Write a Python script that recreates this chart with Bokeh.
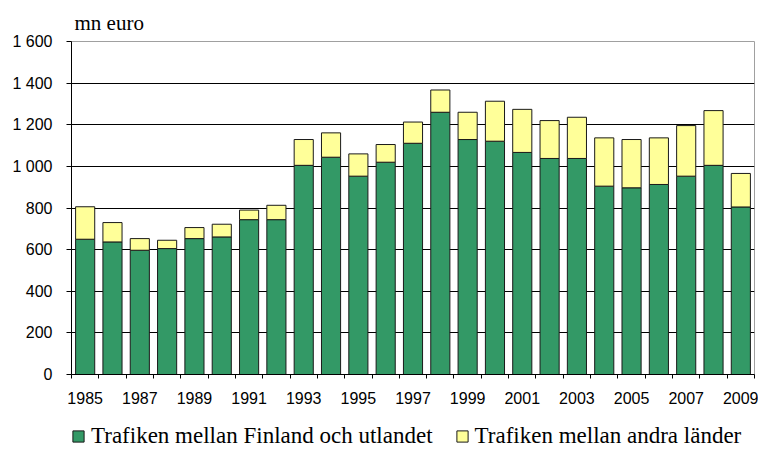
from bokeh.plotting import figure
from bokeh.layouts import column
from bokeh.models import FixedTicker, Legend, LegendItem
from bokeh.embed import file_html
from bokeh.resources import INLINE

years = list(range(1985, 2010))
finland_abroad = [650, 637, 597, 605, 653, 661, 744, 744, 1005, 1044, 953, 1020, 1111,
                  1260, 1129, 1121, 1067, 1038, 1038, 905, 897, 913, 953, 1005, 805]
other_countries = [156, 93, 56, 40, 53, 61, 46, 69, 124, 117, 107, 85, 102,
                   107, 131, 192, 207, 182, 198, 232, 232, 224, 243, 263, 161]
series_names = ["Trafiken mellan Finland och utlandet", "Trafiken mellan andra länder"]
series_colors = ["#339966", "#FFFF99"]
y_ticks = [0, 200, 400, 600, 800, 1000, 1200, 1400, 1600]
y_tick_labels = ["0", "200", "400", "600", "800", "1 000", "1 200", "1 400", "1 600"]
x_label_years = [1985, 1987, 1989, 1991, 1993, 1995, 1997, 1999, 2001, 2003, 2005, 2007, 2009]
x_tick_labels = ["1985", "1987", "1989", "1991", "1993", "1995", "1997", "1999",
                 "2001", "2003", "2005", "2007", "2009"]
unit_label = "mn euro"

data = {"year": years, "fin": finland_abroad, "oth": other_countries}

p = figure(width=758, height=414, output_backend="svg", toolbar_location=None,
           x_range=(years[0] - 0.5, years[-1] + 0.5), y_range=(0, 1600),
           min_border_left=71, min_border_right=4, min_border_top=41, min_border_bottom=40,
           title=unit_label)
p.title.text_font = "Liberation Serif"
p.title.text_font_size = "21px"
p.title.text_font_style = "normal"
p.title.text_color = "black"
p.title.align = "left"
p.title.offset = 3
p.title.standoff = 14
p.background_fill_color = "white"
p.border_fill_color = "white"
p.outline_line_color = "#a0a0a0"
p.outline_line_width = 1

renderers = p.vbar_stack(["fin", "oth"], x="year", width=0.7, source=data,
                         color=series_colors, line_color="#1a1a1a", line_width=1)

# axes
p.xaxis.ticker = FixedTicker(ticks=x_label_years,
                             minor_ticks=[y - 0.5 for y in years] + [years[-1] + 0.5])
p.xaxis.major_label_overrides = {yr: lab for yr, lab in zip(x_label_years, x_tick_labels)}
p.xaxis.major_tick_out = 0
p.xaxis.major_tick_in = 0
p.xaxis.minor_tick_out = 4
p.xaxis.minor_tick_in = 0
p.xaxis.minor_tick_line_color = "black"
p.xaxis.major_label_standoff = 13

p.yaxis.ticker = FixedTicker(ticks=y_ticks)
p.yaxis.major_label_overrides = {v: lab for v, lab in zip(y_ticks, y_tick_labels)}
p.yaxis.major_tick_out = 5
p.yaxis.major_tick_in = 0
p.yaxis.minor_tick_line_color = None
p.yaxis.major_label_standoff = 14

for ax in (p.xaxis, p.yaxis):
    ax.axis_line_color = "black"
    ax.axis_line_width = 1
    ax.major_tick_line_color = "black"
    ax.major_label_text_font = "Liberation Sans"
    ax.major_label_text_font_size = "16px"
    ax.major_label_text_color = "black"

p.xgrid.grid_line_color = None
p.ygrid.ticker = FixedTicker(ticks=y_ticks[1:-1])
p.ygrid.grid_line_color = "black"
p.ygrid.grid_line_width = 1

# legend strip below the chart (its frame is aligned with the chart's frame)
q = figure(width=758, height=36, output_backend="svg", toolbar_location=None,
           x_axis_location=None, y_axis_location=None, x_range=(0, 1), y_range=(0, 1),
           min_border_left=71, min_border_right=4, min_border_top=0, min_border_bottom=0)
q.outline_line_color = None
q.background_fill_color = "white"
q.border_fill_color = "white"
q.grid.visible = False
# hidden swatch renderers: they only supply the legend's colour boxes
swatches = [q.vbar(x=years[:1], top=vals[:1], width=0.7, color=c,
                   line_color="#1a1a1a", line_width=1, visible=False)
            for c, vals in zip(series_colors, [finland_abroad, other_countries])]

legend = Legend(items=[LegendItem(label=n, renderers=[r]) for n, r in zip(series_names, swatches)],
                orientation="horizontal", location=(0, 1),
                glyph_width=14, glyph_height=14, label_standoff=6, spacing=22,
                label_height=27, inactive_fill_alpha=0,
                padding=0, margin=0, border_line_color=None, background_fill_alpha=0,
                label_text_font="Liberation Serif", label_text_font_size="23px",
                label_text_color="black")
q.add_layout(legend, "center")

layout = column(p, q, spacing=0)
open("out.html", "w").write(file_html(layout, INLINE))
